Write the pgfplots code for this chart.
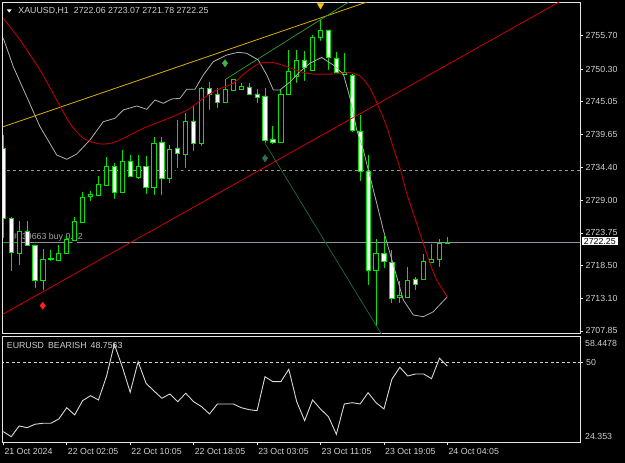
\documentclass[border=0pt]{standalone}
\usepackage{fontspec}
\setmainfont{Liberation Sans}
\usepackage{pgfplots}
\usepackage{pgfplotstable}
\pgfplotsset{compat=1.18}
\definecolor{cgreen}{HTML}{00E600}
\definecolor{framecol}{HTML}{E6E6E6}
\definecolor{txtcol}{HTML}{D0D0D0}
\definecolor{magray}{HTML}{B0B0B0}
\definecolor{mared}{HTML}{B80000}
\definecolor{trendred}{HTML}{D00000}
\definecolor{trendyellow}{HTML}{D8B000}
\definecolor{tgreen}{HTML}{3A9A3A}
\definecolor{tdkgreen}{HTML}{1F6A3C}
\definecolor{dgreenA}{HTML}{3CB44B}
\definecolor{dgreenB}{HTML}{2E6E50}
\definecolor{markred}{HTML}{FF2020}
\definecolor{markgold}{HTML}{FFC400}
\definecolor{pricegray}{HTML}{8C96A0}
\definecolor{ordgreen}{HTML}{20A020}
\definecolor{osccol}{HTML}{D8D8D8}
\newcommand\lbl{\fontsize{8.8}{10}\selectfont}

\pgfplotstableread{
i O H L C
0 2737.50 2739.61 2722.59 2726.15
1 2726.15 2726.32 2717.24 2720.64
2 2720.48 2725.67 2718.21 2724.05
3 2724.05 2725.67 2721.29 2721.78
4 2721.78 2721.78 2714.49 2716.11
5 2716.11 2721.13 2714.16 2719.51
6 2719.60 2720.97 2718.86 2719.51
7 2719.35 2721.78 2719.19 2720.48
8 2720.48 2723.24 2720.48 2722.75
9 2722.59 2726.32 2722.10 2725.67
10 2725.51 2730.37 2725.51 2729.56
11 2729.72 2730.53 2728.59 2730.04
12 2729.88 2732.96 2729.72 2731.67
13 2731.50 2736.04 2731.02 2734.58
14 2734.58 2735.07 2728.91 2730.37
15 2730.37 2737.18 2730.21 2735.39
16 2735.39 2736.37 2732.64 2732.96
17 2732.80 2736.37 2732.15 2734.58
18 2734.58 2736.20 2729.72 2731.18
19 2731.18 2739.28 2729.56 2738.31
20 2738.47 2739.28 2729.56 2732.64
21 2732.64 2737.99 2731.50 2737.34
22 2737.50 2742.04 2733.93 2736.69
23 2736.53 2743.17 2733.93 2741.88
24 2741.88 2744.31 2736.69 2738.31
25 2738.31 2747.39 2737.50 2747.22
26 2747.22 2748.20 2743.33 2746.25
27 2746.25 2747.22 2743.66 2744.96
28 2744.96 2748.68 2744.47 2747.06
29 2746.90 2748.68 2746.58 2748.68
30 2747.06 2748.03 2746.74 2747.55
31 2747.39 2748.03 2745.77 2746.25
32 2746.25 2747.06 2744.47 2745.77
33 2745.93 2747.22 2737.99 2738.80
34 2738.96 2741.07 2737.82 2738.47
35 2738.47 2746.90 2738.47 2746.25
36 2746.25 2753.38 2746.09 2749.98
37 2749.17 2753.38 2747.71 2751.76
38 2751.76 2753.22 2748.03 2750.47
39 2750.14 2755.81 2749.66 2755.49
40 2755.49 2758.24 2754.52 2756.62
41 2756.62 2756.62 2749.82 2752.25
42 2752.09 2753.06 2749.66 2749.66
43 2749.49 2752.90 2749.33 2749.82
44 2749.33 2749.49 2739.77 2740.42
45 2740.26 2742.85 2731.83 2733.77
46 2733.77 2736.37 2714.97 2717.73
47 2717.73 2722.75 2708.33 2720.48
48 2720.48 2723.24 2717.73 2719.19
49 2719.02 2720.97 2712.06 2713.19
50 2713.35 2715.94 2712.06 2713.68
51 2713.35 2718.21 2713.35 2716.11
52 2716.27 2716.59 2714.16 2715.46
53 2716.27 2720.32 2716.11 2719.19
54 2719.02 2721.94 2718.86 2719.51
55 2719.51 2722.75 2717.89 2722.10
56 2722.06 2723.07 2721.78 2722.25
}\candles

\pgfplotstableread{
i v
0 27.68
1 26.07
2 29.51
3 28.96
4 30.06
5 30.38
6 30.38
7 31.76
8 35.39
9 33.05
10 37.65
11 39.25
12 37.87
13 45.36
14 55.78
15 48.58
16 40.35
17 50.19
18 43.24
19 40.76
20 38.42
21 39.80
22 37.32
23 40.03
24 37.32
25 35.72
26 33.37
27 36.58
28 36.58
29 36.58
30 35.39
31 34.75
32 34.43
33 45.36
34 43.75
35 43.75
36 47.74
37 37.32
38 31.21
39 37.87
40 34.97
41 32.50
42 26.84
43 36.58
44 37.00
45 36.58
46 40.22
47 37.00
48 34.97
49 44.52
50 48.38
51 45.59
52 46.23
53 46.23
54 44.72
55 51.28
56 48.7563
}\osc

\begin{document}
\begin{tikzpicture}
\useasboundingbox (0,0) rectangle (625pt,463pt);
\fill[black] (0,0) rectangle (625pt,463pt);
\pgfplotsset{
  mainpanel/.style={at={(2.7pt,129.7pt)}, anchor=south west, scale only axis,
    width=577.3pt, height=331pt, xmin=-0.076, xmax=72.72},
}
% ---- axis A: frame, ticks, background lines, wicks
\begin{axis}[mainpanel, ymin=2707.47, ymax=2761.11,
  axis line style={draw=framecol, line width=0.8pt},
  xtick=\empty,
  ytick={2707.85,2713.10,2718.50,2723.75,2729.00,2734.40,2739.65,2745.05,2750.30,2755.70},
  yticklabels={2707.85,2713.10,2718.50,2723.75,2729.00,2734.40,2739.65,2745.05,2750.30,2755.70},
  ytick pos=right, yticklabel pos=right,
  tick align=outside, major tick length=3pt,
  tick style={draw=framecol, line width=0.6pt},
  yticklabel style={font=\lbl, text=txtcol, anchor=west, inner sep=0pt, xshift=2.5pt},
]
\addplot[draw=gray!85!white, dash pattern=on 3pt off 3pt, line width=1pt] coordinates {(-1,2733.93) (73,2733.93)};
\addplot[draw=ordgreen, line width=0.8pt] coordinates {(-1,2722.25) (73,2722.25)};
\addplot[draw=pricegray, line width=0.8pt] coordinates {(2.2,2722.25) (73,2722.25)};
\node[anchor=base west, text=gray!70!white, font=\lbl, inner sep=0pt] at (axis cs:1.10,2722.75) {\#339663 buy 0.02};
\addplot[only marks, mark=none, error bars/.cd, y dir=plus, y explicit, error mark=none,
  error bar style={draw=cgreen, line width=0.9pt}]
  table[x=i, y=L, y error expr=\thisrow{H}-\thisrow{L}] {\candles};
\end{axis}
% ---- axis B: candle bodies (prices offset by 2700 for stacking)
\begin{axis}[mainpanel, ymin=7.47, ymax=61.11, hide axis, ybar stacked, bar width=4.2pt]
\addplot[draw=none, fill=none] table[x=i, y expr={min(\thisrow{O},\thisrow{C})-2700}] {\candles};
\addplot[draw=cgreen, fill=black, line width=0.9pt] table[x=i, y expr={max(\thisrow{C}-\thisrow{O},0)}] {\candles};
\addplot[draw=cgreen, fill=white, line width=0.9pt] table[x=i, y expr={max(\thisrow{O}-\thisrow{C},0)}] {\candles};
\end{axis}
% ---- axis C: indicators and objects
\begin{axis}[mainpanel, ymin=2707.47, ymax=2761.11,
  axis line style={draw=framecol, line width=0.8pt}, xtick=\empty, ytick=\empty]
\addplot[trendyellow, line width=0.8pt] coordinates {(-1,2740.51) (50,2762.98)};
\addplot[trendred, line width=0.8pt] coordinates {(-1,2709.88) (73,2763.26)};
\addplot[tgreen, line width=0.7pt] coordinates {(28.08,2748.68) (46,2763.12)};
\addplot[tdkgreen, line width=0.7pt] coordinates {(33.0,2738.26) (48,2706.68)};
\addplot[magray, line width=0.8pt] coordinates {
(0,2755.28) (1.26,2750.68) (2.95,2745.81) (4.63,2740.95) (6.73,2736.37) (8.0,2735.67)
(9.26,2736.53) (10.93,2738.80) (12.61,2741.76) (14.09,2742.31) (15.13,2743.66) (16.82,2744.31)
(18.08,2743.77) (19.13,2745.28) (20.18,2744.74) (21.24,2745.44) (22.28,2745.55) (23.13,2747.01)
(24.17,2747.01) (25.22,2749.33) (26.48,2751.49) (28.17,2752.57) (29.63,2753.01) (30.69,2752.85)
(32.16,2751.76) (33.22,2749.33) (34.05,2746.90) (34.89,2746.90) (36.15,2748.20) (37.41,2749.87)
(38.68,2751.23) (40.15,2752.17) (41.61,2750.95) (42.88,2749.49) (43.72,2745.60) (44.57,2740.42)
(45.40,2737.17) (46.24,2732.85) (47.09,2728.54) (47.92,2724.21) (48.76,2720.43) (49.61,2716.64)
(50.44,2712.87) (51.70,2710.44) (52.96,2710.16) (54.22,2710.97) (56,2713.40)};
\addplot[mared, line width=0.9pt, smooth, tension=0.4] coordinates {
(0,2758.52) (2.11,2755.00) (4.63,2750.14) (6.73,2745.28) (8.41,2741.50) (10.09,2739.07)
(12.19,2738.15) (13.87,2738.36) (15.56,2739.33) (17.65,2740.69) (19.76,2741.76) (21.87,2742.85)
(23.54,2743.93) (25.22,2745.55) (26.91,2746.90) (29.0,2747.99) (30.69,2749.87) (32.37,2751.23)
(34.05,2751.33) (35.74,2750.68) (37.41,2749.87) (39.09,2749.49) (41.61,2749.49) (43.72,2749.71)
(44.98,2749.17) (46.24,2747.18) (47.5,2743.66) (48.35,2740.95) (49.40,2736.64) (50.03,2734.21)
(50.87,2730.16) (52.13,2725.30) (52.96,2722.06) (53.81,2718.81) (54.65,2716.11) (56,2713.40)};
\addplot[only marks, mark=diamond*, mark size=3.6pt, color=dgreenA] coordinates {(27.96,2751.23)};
\addplot[only marks, mark=diamond*, mark size=3.6pt, color=dgreenB] coordinates {(33.0,2735.83)};
\addplot[only marks, mark=diamond*, mark size=3.6pt, color=markred] coordinates {(4.97,2711.94)};
\addplot[only marks, mark=triangle*, mark size=3.6pt, color=markgold, mark options={rotate=180}] coordinates {(40.0,2760.6)};
\end{axis}
% ---- texts on the main panel
\fill[white] (6.7pt,453.7pt) -- (11.7pt,453.7pt) -- (9.2pt,450.4pt) -- cycle;
\node[anchor=base west, inner sep=0pt, text=txtcol, font=\lbl] at (18.3pt,449.5pt)
  {XAUUSD,H1\hspace{5pt}2722.06 2723.07 2721.78 2722.25};
\node[anchor=west, fill=white, text=black, font=\lbl, inner xsep=2pt, inner ysep=1pt] at (581.7pt,221.8pt) {2722.25};
% ---- lower panel
\begin{axis}[at={(2.7pt,21pt)}, anchor=south west, scale only axis,
  width=577.3pt, height=106pt, xmin=-0.076, xmax=72.72, ymin=24.353, ymax=58.4478,
  axis line style={draw=framecol, line width=0.8pt},
  xtick={0,8,16,24,32,40,48,56},
  xticklabels={21 Oct 2024,22 Oct 02:05,22 Oct 10:05,22 Oct 18:05,23 Oct 03:05,23 Oct 11:05,23 Oct 19:05,24 Oct 04:05},
  xtick pos=bottom, xticklabel pos=lower,
  ytick={50}, yticklabels={50}, ytick pos=right, yticklabel pos=right,
  tick align=outside, major tick length=3.5pt,
  tick style={draw=framecol, line width=0.6pt},
  xticklabel style={font=\lbl, text=txtcol, anchor=north west, inner sep=0pt, xshift=1pt, yshift=-2.5pt},
  yticklabel style={font=\lbl, text=txtcol, anchor=west, inner sep=0pt, xshift=2.5pt},
]
\addplot[draw=txtcol!90!white, dash pattern=on 3pt off 2.5pt, line width=0.6pt] coordinates {(-1,50) (73,50)};
\addplot[draw=osccol, line width=0.9pt] table[x=i, y=v] {\osc};
\node[anchor=base west, inner sep=0pt, text=txtcol, font=\lbl] at (axis cs:0.43,54.49) {EURUSD\hspace{4pt}BEARISH\hspace{4pt}48.7563};
\end{axis}
\node[anchor=west, inner sep=0pt, text=txtcol, font=\lbl] at (585pt,119.7pt) {58.4478};
\node[anchor=west, inner sep=0pt, text=txtcol, font=\lbl] at (585pt,27pt) {24.353};
\end{tikzpicture}
\end{document}
